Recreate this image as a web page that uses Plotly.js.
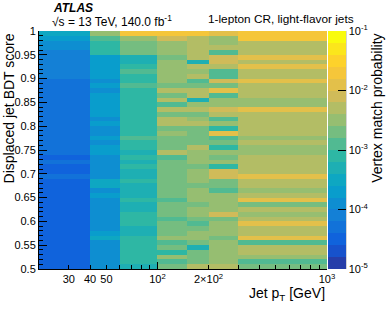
<!DOCTYPE html>
<html><head><meta charset="utf-8">
<script src="https://cdn.plot.ly/plotly-3.0.1.min.js"></script>
<style>html,body{margin:0;padding:0;background:#fff;}#chart{width:389px;height:317px;}</style>
</head><body><div id="chart"></div>
<script>
// Jet pT bin edges [GeV]
const ptEdges = [20, 40, 60, 100, 150, 200, 300, 1000];
// Displaced jet BDT score bin edges
const bdtEdges = [0.50,0.51,0.52,0.53,0.54,0.55,0.56,0.57,0.58,0.59,
  0.60,0.61,0.62,0.63,0.64,0.65,0.66,0.67,0.68,0.69,
  0.70,0.71,0.72,0.73,0.74,0.75,0.76,0.77,0.78,0.79,
  0.80,0.81,0.82,0.83,0.84,0.85,0.86,0.87,0.88,0.89,
  0.90,0.91,0.92,0.93,0.94,0.95,0.96,0.97,0.98,0.99,1.00];

// Vertex match probability per pT bin, listed from BDT score 1.0 (top) down to 0.5 (bottom)
const prob_pt20_40 = [
  3.2e-4,2.0e-4,1.3e-4,1.3e-4,7.9e-5,7.9e-5,7.9e-5,7.9e-5,7.9e-5,7.9e-5,
  5.0e-5,5.0e-5,5.0e-5,5.0e-5,5.0e-5,5.0e-5,5.0e-5,5.0e-5,5.0e-5,5.0e-5,
  5.0e-5,5.0e-5,5.0e-5,5.0e-5,5.0e-5,5.0e-5,3.2e-5,5.0e-5,3.2e-5,3.2e-5,
  5.0e-5,3.2e-5,3.2e-5,3.2e-5,3.2e-5,3.2e-5,3.2e-5,3.2e-5,3.2e-5,3.2e-5,
  3.2e-5,3.2e-5,3.2e-5,3.2e-5,3.2e-5,3.2e-5,3.2e-5,3.2e-5,3.2e-5,3.2e-5];
const prob_pt40_60 = [
  3.2e-3,1.3e-3,7.9e-4,7.9e-4,7.9e-4,2.2e-4,2.2e-4,2.2e-4,2.2e-4,2.2e-4,
  1.5e-4,2.2e-4,1.3e-4,2.2e-4,2.2e-4,2.2e-4,2.2e-4,2.2e-4,1.3e-4,2.2e-4,
  1.3e-4,1.3e-4,2.2e-4,1.5e-4,2.2e-4,2.2e-4,1.5e-4,1.3e-4,1.3e-4,1.3e-4,
  1.3e-4,3.0e-4,3.0e-4,1.3e-4,1.8e-4,1.3e-4,1.3e-4,1.3e-4,1.3e-4,1.3e-4,
  1.3e-4,1.3e-4,1.8e-4,3.0e-4,1.3e-4,1.3e-4,1.3e-4,1.3e-4,1.3e-4,1.3e-4];
const prob_pt60_100 = [
  2.0e-2,3.2e-3,2.0e-3,2.0e-3,2.0e-3,5.0e-4,5.0e-4,7.9e-4,1.3e-3,7.9e-4,
  7.9e-4,1.3e-3,7.9e-4,7.9e-4,7.9e-4,7.9e-4,7.9e-4,7.9e-4,7.9e-4,7.9e-4,
  7.9e-4,7.9e-4,1.3e-3,7.9e-4,7.9e-4,5.0e-4,7.9e-4,5.0e-4,7.9e-4,5.0e-4,
  5.0e-4,7.9e-4,5.0e-4,5.0e-4,5.0e-4,7.9e-4,5.0e-4,5.0e-4,7.9e-4,7.9e-4,
  7.9e-4,5.0e-4,5.0e-4,7.9e-4,7.9e-4,7.9e-4,7.9e-4,7.9e-4,7.9e-4,5.0e-4];
const prob_pt100_150 = [
  2.0e-2,7.9e-3,3.2e-3,3.2e-3,3.2e-3,2.0e-3,3.2e-3,3.2e-3,3.2e-3,3.2e-3,
  3.2e-3,2.0e-3,5.0e-3,2.0e-3,5.0e-3,1.3e-3,5.0e-3,2.0e-3,5.0e-3,5.0e-3,
  2.0e-3,3.2e-3,2.0e-3,2.0e-3,2.0e-3,5.0e-3,1.3e-3,2.0e-3,2.0e-3,2.0e-3,
  2.0e-3,2.0e-3,2.0e-3,2.0e-3,2.0e-3,1.3e-3,2.0e-3,2.0e-3,2.0e-3,1.3e-3,
  2.0e-3,2.0e-3,2.0e-3,3.2e-3,1.3e-3,2.0e-3,7.9e-4,3.2e-3,1.3e-3,2.0e-3];
const prob_pt150_200 = [
  2.4e-2,5.0e-3,5.0e-3,5.0e-3,5.0e-3,5.0e-3,5.0e-4,5.0e-3,3.2e-3,5.0e-3,
  1.3e-3,2.0e-3,5.0e-3,5.0e-3,5.0e-4,3.2e-3,5.0e-3,2.0e-3,3.2e-3,5.0e-3,
  2.0e-3,2.0e-3,2.0e-3,2.0e-3,5.0e-3,3.2e-3,3.2e-3,3.2e-3,2.0e-3,3.2e-3,
  3.2e-3,3.2e-3,2.0e-3,3.2e-3,3.2e-3,3.2e-3,2.0e-3,3.2e-3,3.2e-3,2.0e-3,
  1.3e-3,2.0e-3,3.2e-3,3.2e-3,2.0e-3,5.0e-4,2.0e-3,2.0e-3,2.0e-3,5.0e-3];
const prob_pt200_300 = [
  1.3e-2,3.2e-3,3.2e-3,5.0e-3,1.3e-3,7.9e-3,7.9e-3,5.0e-3,1.3e-3,1.3e-3,
  7.9e-3,2.0e-3,1.3e-2,1.3e-3,3.2e-3,3.2e-3,7.9e-3,5.0e-3,1.3e-3,3.2e-3,
  7.9e-4,1.3e-2,1.3e-3,2.0e-3,7.9e-4,3.2e-3,2.0e-3,3.2e-3,7.9e-4,7.9e-3,
  7.9e-3,2.0e-3,2.0e-3,1.3e-3,3.2e-3,3.2e-3,3.2e-3,3.2e-3,7.9e-3,2.0e-3,
  3.2e-3,3.2e-3,3.2e-3,2.0e-3,3.2e-3,3.2e-3,3.2e-3,3.2e-3,3.2e-3,5.0e-3];
const prob_pt300_1000 = [
  2.0e-2,2.0e-2,5.0e-3,5.0e-3,5.0e-3,1.3e-2,5.0e-3,1.3e-2,5.0e-3,5.0e-3,
  1.3e-2,5.0e-3,5.0e-3,5.0e-3,3.2e-3,3.2e-3,1.3e-2,5.0e-3,5.0e-3,5.0e-3,
  5.0e-3,5.0e-3,3.2e-3,5.0e-3,3.2e-3,3.2e-3,5.0e-3,5.0e-3,5.0e-3,5.0e-3,
  1.3e-2,5.0e-3,5.0e-3,3.2e-3,5.0e-3,1.3e-2,2.0e-3,5.0e-3,3.2e-3,5.0e-3,
  1.3e-2,5.0e-3,5.0e-3,1.3e-2,1.3e-3,5.0e-3,5.0e-3,3.2e-3,1.3e-3,2.0e-3];

const xTickVals = [30, 40, 50, 100, 200, 1000];
const xTickText = ['30', '40', '50', '10<sup>2</sup>', '2×10<sup>2</sup>', '10<sup>3</sup>'];
const xMinorVals = [20, 60, 70, 80, 90, 300, 400, 500, 600, 700, 800, 900];
const cbTickVals = [-5, -4, -3, -2, -1];
const cbTickText = ['10<sup>-5</sup>', '10<sup>-4</sup>', '10<sup>-3</sup>', '10<sup>-2</sup>', '10<sup>-1</sup>'];

const columns = [prob_pt20_40, prob_pt40_60, prob_pt60_100, prob_pt100_150, prob_pt150_200, prob_pt200_300, prob_pt300_1000];
const nY = bdtEdges.length - 1;
const z = [];
for (let j = 0; j < nY; j++) {
  const row = [];
  for (let i = 0; i < columns.length; i++) row.push(Math.log10(columns[i][nY - 1 - j]));
  z.push(row);
}

// ROOT kBird palette, 20 contour levels
const bS = [0, .125, .25, .375, .5, .625, .75, .875, 1];
const bR = [0.2082, 0.0592, 0.0780, 0.0232, 0.1802, 0.5301, 0.8186, 0.9956, 0.9764];
const bG = [0.1664, 0.3599, 0.5041, 0.6419, 0.7178, 0.7492, 0.7328, 0.7862, 0.9832];
const bB = [0.5293, 0.8684, 0.8385, 0.7914, 0.6425, 0.4662, 0.3499, 0.1968, 0.0539];
function bird(t) {
  t = Math.min(1, Math.max(0, t));
  let k = 0;
  while (k < bS.length - 2 && t > bS[k + 1]) k++;
  const f = (t - bS[k]) / (bS[k + 1] - bS[k]);
  const c = a => Math.round(255 * (a[k] + f * (a[k + 1] - a[k])));
  return 'rgb(' + c(bR) + ',' + c(bG) + ',' + c(bB) + ')';
}
const nLev = 20;
const cs = [];
for (let i = 0; i < nLev; i++) {
  const col = bird((i + 0.99) / nLev);
  cs.push([i / nLev, col]);
  cs.push([(i + 1) / nLev, col]);
}

const FONT = 'Liberation Sans, Arial, Helvetica, sans-serif';
const L = 39, R = 58, T = 31, B = 48, W = 389, H = 317;
const pw = W - L - R, ph = H - T - B;
const px = v => (v - L) / pw;      // pixel x -> paper
const py = v => 1 - (v - T) / ph;  // pixel y -> paper

const shapes = [];
// minor ticks on the colour scale
for (let e = -5; e < -1; e++) {
  for (let k = 2; k <= 9; k++) {
    const yy = (e + Math.log10(k) + 5) / 4;
    shapes.push({type: 'line', xref: 'paper', yref: 'paper', x0: px(350), x1: px(346), y0: yy, y1: yy,
      line: {color: '#000', width: 1}, layer: 'above'});
  }
}
// colour-scale axis line
shapes.push({type: 'line', xref: 'paper', yref: 'paper', x0: px(350), x1: px(350), y0: 0, y1: 1,
  line: {color: '#444', width: 1}, layer: 'above'});
// longer decade tick on x axis
const x100 = Math.log10(100 / 20) / Math.log10(1000 / 20);
shapes.push({type: 'line', xref: 'paper', yref: 'paper', x0: x100, x1: x100,
  y0: 0, y1: 7 / ph, line: {color: '#000', width: 1}, layer: 'above'});

const data = [{
  type: 'heatmap', x: ptEdges, y: bdtEdges, z: z,
  zmin: -5, zmax: -1, colorscale: cs, zsmooth: false, hoverinfo: 'skip',
  colorbar: {
    x: px(332), xanchor: 'left', xpad: 0, y: 0.5, yanchor: 'middle', ypad: 0,
    len: 1, lenmode: 'fraction', thickness: 18, thicknessmode: 'pixels',
    outlinewidth: 0, tickmode: 'array', tickvals: cbTickVals, ticktext: cbTickText,
    ticks: 'inside', ticklen: 8, tickcolor: '#000', tickwidth: 1,
    tickfont: {family: FONT, size: 11, color: '#000'}
  }
}];

const layout = {
  width: W, height: H, margin: {l: L, r: R, t: T, b: B, pad: 0},
  paper_bgcolor: '#fff', plot_bgcolor: '#fff',
  font: {family: FONT, size: 11, color: '#000'},
  showlegend: false,
  xaxis: {
    type: 'log', range: [Math.log10(20), 3], tickmode: 'array', tickvals: xTickVals, ticktext: xTickText,
    ticks: 'inside', ticklen: 4, tickcolor: '#000', tickwidth: 1,
    showline: true, linecolor: '#000', linewidth: 1, mirror: false,
    showgrid: false, zeroline: false, tickfont: {family: FONT, size: 11, color: '#000'},
    minor: {tickmode: 'array', tickvals: xMinorVals, ticks: 'inside', ticklen: 4, tickcolor: '#000', showgrid: false}
  },
  yaxis: {
    range: [0.5, 1], tickmode: 'linear', tick0: 0.5, dtick: 0.05,
    ticks: 'inside', ticklen: 8, tickcolor: '#000', tickwidth: 1,
    showline: true, linecolor: '#000', linewidth: 1, mirror: false,
    showgrid: false, zeroline: false, tickfont: {family: FONT, size: 11, color: '#000'},
    minor: {dtick: 0.01, ticks: 'inside', ticklen: 4, tickcolor: '#000', showgrid: false}
  },
  shapes: shapes,
  annotations: [
    {text: '<b><i>ATLAS</i></b>', xref: 'paper', yref: 'paper', x: px(51), y: py(8), xanchor: 'left', yanchor: 'middle',
      showarrow: false, font: {family: FONT, size: 12, color: '#000'}},
    {text: '√s = 13 TeV, 140.0 fb<sup>-1</sup>', xref: 'paper', yref: 'paper', x: px(50), y: py(21), xanchor: 'left', yanchor: 'middle',
      showarrow: false, font: {family: FONT, size: 12, color: '#000'}},
    {text: '1-lepton CR, light-flavor jets', xref: 'paper', yref: 'paper', x: px(360), y: py(19.5), xanchor: 'right', yanchor: 'middle',
      showarrow: false, font: {family: FONT, size: 11.8, color: '#000'}},
    {text: 'Jet p<sub>T</sub> [GeV]', xref: 'paper', yref: 'paper', x: px(331), y: py(294), xanchor: 'right', yanchor: 'middle',
      showarrow: false, font: {family: FONT, size: 14, color: '#000'}},
    {text: 'Displaced jet BDT score', xref: 'paper', yref: 'paper', x: px(9), y: py(31), xanchor: 'center', yanchor: 'top',
      textangle: -90, showarrow: false, font: {family: FONT, size: 14, color: '#000'}},
    {text: 'Vertex match probability', xref: 'paper', yref: 'paper', x: px(381), y: py(32), xanchor: 'center', yanchor: 'top',
      textangle: -90, showarrow: false, font: {family: FONT, size: 14, color: '#000'}}
  ]
};

Plotly.newPlot('chart', data, layout, {displayModeBar: false, staticPlot: true});
</script>
</body></html>
